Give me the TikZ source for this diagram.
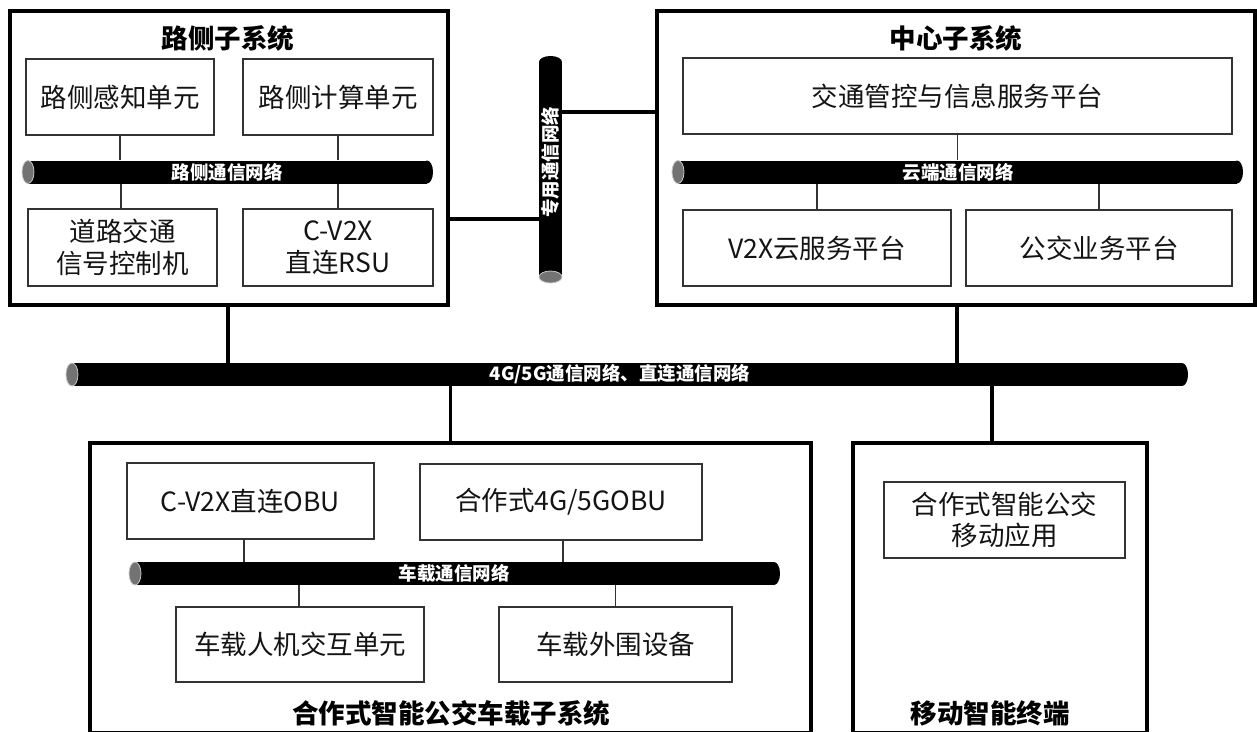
\documentclass[tikz,border=0pt]{standalone}
\usepackage{fontspec}
\setmainfont{Noto Sans CJK SC}
\newcommand\hbus[6]{%
  \fill[black] ({#2+6},{#4-11.5}) rectangle ({#3-6},{#4+11.5});
  \fill[black] ({#3-6},#4) ellipse [x radius=6, y radius=11.5];
  \filldraw[fill=black!55, draw=black!22, line width=0.8pt] ({#2+6},#4) ellipse [x radius=6, y radius=11.5];
  \node[inner sep=0pt, minimum width={#3-#2}, minimum height=23] (#1) at ({(#2+#3)/2},#4) {};
  \node[buslabel] (#1-label) at (#5,#4) {#6};
}
\begin{document}
\begin{tikzpicture}[x=1pt,y=-1pt,
  sysbox/.style={draw=black, line width=3.6pt, inner sep=0pt},
  unit/.style={draw=black!80, line width=1.3pt, inner sep=0pt, align=center, text=black!92,
    font=\fontsize{26.5}{32}\selectfont},
  systitle/.style={inner sep=0pt, font=\bfseries\fontsize{26.5}{32}\selectfont},
  buslabel/.style={inner sep=0pt, text=white, font=\bfseries\fontsize{18.5}{20}\selectfont},
  link/.style={draw=black!80, line width=1.3pt},
  trunk/.style={draw=black, line width=3.4pt},
  ]
\useasboundingbox (0,0) rectangle (1257,731);
\fill[white] (0,0) rectangle (1257,731);
\clip (0,0) rectangle (1257,731);

% system boxes
\node[sysbox, minimum width=438, minimum height=294] (Lsys) at (229,158) {};
\node[sysbox, minimum width=598, minimum height=294] (Rsys) at (956,158) {};
\node[sysbox, minimum width=721, minimum height=290] (Bsys) at (450.5,588) {};
\node[sysbox, minimum width=294, minimum height=290] (Msys) at (1000,588) {};

\node[systitle] (Lt) at (228,38) {路侧子系统};
\node[systitle] (Rt) at (956,38) {中心子系统};
\node[systitle] (Bt) at (451,713) {合作式智能公交车载子系统};
\node[systitle] (Mt) at (990,713) {移动智能终端};

% roadside units
\node[unit, minimum width=188, minimum height=76] (u1) at (120,97) {路侧感知单元};
\node[unit, minimum width=190, minimum height=76] (u2) at (338,97) {路侧计算单元};
\node[unit, minimum width=189, minimum height=77] (u3) at (122.5,247.5) {道路交通\\信号控制机};
\node[unit, minimum width=190, minimum height=77] (u4) at (338,247.5) {C-V2X\\直连RSU};

% center units
\node[unit, minimum width=549, minimum height=76] (r1) at (957.5,96) {交通管控与信息服务平台};
\node[unit, minimum width=268, minimum height=76] (r2) at (817,248) {V2X云服务平台};
\node[unit, minimum width=266, minimum height=76] (r3) at (1099,248) {公交业务平台};

% vehicle units
\node[unit, minimum width=247, minimum height=76] (b1) at (250.5,501) {C-V2X直连OBU};
\node[unit, minimum width=282, minimum height=76] (b2) at (561,502) {合作式4G/5GOBU};
\node[unit, minimum width=248, minimum height=75] (b3) at (300,644.5) {车载人机交互单元};
\node[unit, minimum width=233, minimum height=75] (b4) at (615.5,644.5) {车载外围设备};

% mobile unit
\node[unit, minimum width=241, minimum height=76, font=\fontsize{26.5}{31}\selectfont] (m1) at (1004.5,520) {合作式智能公交\\移动应用};

% buses
\hbus{bus1}{22}{433}{172}{227}{路侧通信网络}
\hbus{bus2}{672}{1243}{172}{958}{云端通信网络}
\hbus{bus3}{66}{1188}{374.5}{620}{4G/5G通信网络、直连通信网络}
\hbus{bus4}{129}{780}{573.5}{454}{车载通信网络}

% vertical bus
\fill[black] (539,62) rectangle (562,277);
\fill[black] (550.5,62) ellipse [x radius=11.5, y radius=6];
\filldraw[fill=black!55, draw=black!22, line width=0.8pt] (550.5,277) ellipse [x radius=11.5, y radius=6];
\node[inner sep=0pt, minimum width=23, minimum height=227] (vbus) at (550.5,169.5) {};
\node[buslabel, rotate=90] (vbus-label) at (550.5,162) {专用通信网络};

% thin links
\draw[link] (u1.south) -- (u1.south |- bus1.north);
\draw[link] (u2.south) -- (u2.south |- bus1.north);
\draw[link] ([xshift=-1.5pt]u3.north) -- ([xshift=-1.5pt]u3.north |- bus1.south);
\draw[link] (u4.north) -- (u4.north |- bus1.south);

\draw[link] (r1.south) -- (r1.south |- bus2.north);
\draw[link] (r2.north) -- (r2.north |- bus2.south);
\draw[link] (r3.north) -- (r3.north |- bus2.south);

\draw[link] ([xshift=-6.5pt]b1.south) -- ([xshift=-6.5pt]b1.south |- bus4.north);
\draw[link] ([xshift=2pt]b2.south) -- ([xshift=2pt]b2.south |- bus4.north);
\draw[link] ([xshift=-1pt]b3.north) -- ([xshift=-1pt]b3.north |- bus4.south);
\draw[link] (b4.north) -- (b4.north |- bus4.south);

% trunks
\draw[trunk] (Lsys.south -| 228,0) -- (bus3.north -| 228,0);
\draw[trunk] (Rsys.south -| 957,0) -- (bus3.north -| 957,0);
\draw[trunk] (bus3.south -| Bsys.north) -- (Bsys.north);
\draw[trunk] (bus3.south -| 992,0) -- (Msys.north -| 992,0);
\draw[trunk] (Lsys.east |- 0,219) -- (vbus.west |- 0,219);
\draw[trunk] (vbus.east |- 0,112) -- (Rsys.west |- 0,112);
\end{tikzpicture}
\end{document}
